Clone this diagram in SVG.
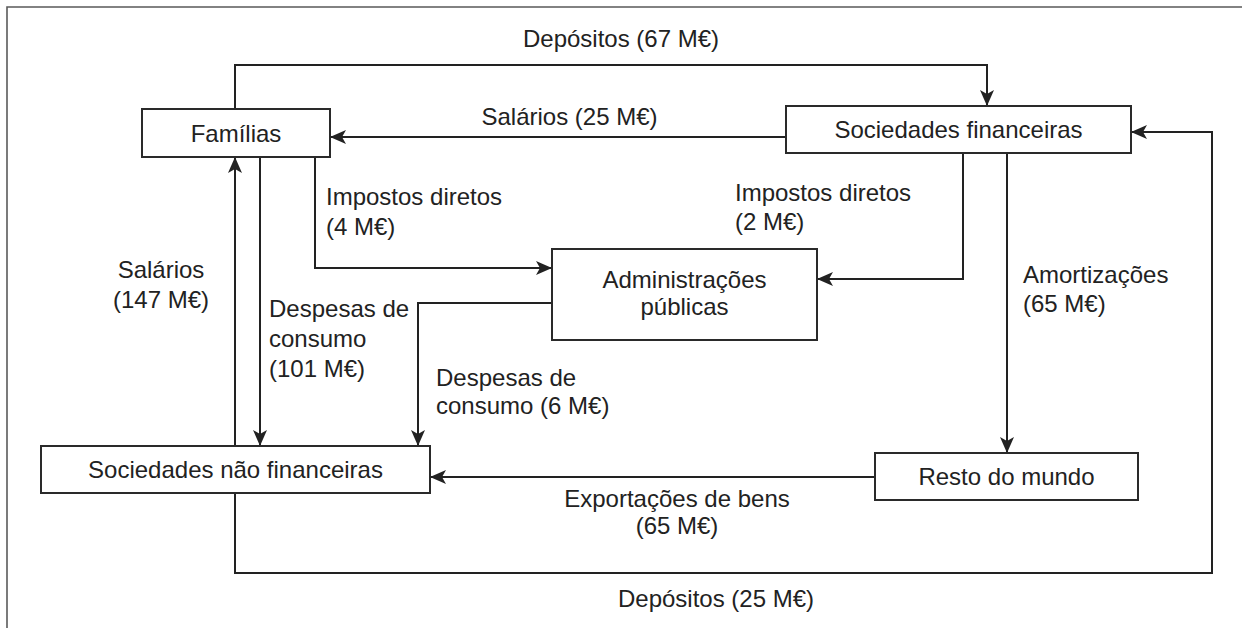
<svg xmlns="http://www.w3.org/2000/svg" width="1242" height="628" viewBox="0 0 1242 628">
<style>
  .frame { fill: none; stroke: #5a5a5a; stroke-width: 1.6; }
  .box { fill: #ffffff; stroke: #2a2a2a; stroke-width: 2; }
  .conn { fill: none; stroke: #222222; stroke-width: 2; }
  text { font-family: "Liberation Sans", Arial, sans-serif; font-size: 24px; fill: #222222; }
  .c { text-anchor: middle; }
  .s { text-anchor: start; }
</style>
<defs>
  <marker id="arr" markerUnits="userSpaceOnUse" markerWidth="17" markerHeight="15" refX="16" refY="7.5" orient="auto" viewBox="0 0 17 15">
    <path d="M0,0.5 L16,7.5 L0,14.5 L4,7.5 z" fill="#222222"/>
  </marker>
</defs>
<rect width="1242" height="628" fill="#ffffff"/>
<path class="frame" d="M7,628 V7 H1242"/>

<g id="connectors">
  <path class="conn" d="M235,109 V65 H987 V106" marker-end="url(#arr)"/>
  <path class="conn" d="M786,137 H330" marker-end="url(#arr)"/>
  <path class="conn" d="M315,157 V268 H552" marker-end="url(#arr)"/>
  <path class="conn" d="M235,446 V157" marker-end="url(#arr)"/>
  <path class="conn" d="M260,157 V446" marker-end="url(#arr)"/>
  <path class="conn" d="M963,153 V279 H817" marker-end="url(#arr)"/>
  <path class="conn" d="M552,303 H418 V446" marker-end="url(#arr)"/>
  <path class="conn" d="M1007,153 V453" marker-end="url(#arr)"/>
  <path class="conn" d="M875,477 H430" marker-end="url(#arr)"/>
  <path class="conn" d="M235,493 V573 H1212 V132 H1131" marker-end="url(#arr)"/>
</g>

<g id="labels">
  <text class="c" x="621" y="47">Depósitos (67 M€)</text>
  <text class="c" x="569.5" y="125">Salários (25 M€)</text>
  <text class="s" x="326" y="205">Impostos diretos</text>
  <text class="s" x="326" y="235">(4 M€)</text>
  <text class="s" x="735" y="201">Impostos diretos</text>
  <text class="s" x="735" y="230">(2 M€)</text>
  <text class="s" x="1023" y="283">Amortizações</text>
  <text class="s" x="1023" y="312">(65 M€)</text>
  <text class="c" x="161" y="278">Salários</text>
  <text class="c" x="161" y="308">(147 M€)</text>
  <text class="s" x="269" y="317">Despesas de</text>
  <text class="s" x="269" y="347">consumo</text>
  <text class="s" x="269" y="377">(101 M€)</text>
  <text class="s" x="436" y="386">Despesas de</text>
  <text class="s" x="436" y="414">consumo (6 M€)</text>
  <text class="c" x="677" y="507">Exportações de bens</text>
  <text class="c" x="677" y="534">(65 M€)</text>
  <text class="c" x="716" y="607">Depósitos (25 M€)</text>
</g>

<g id="node-familias">
  <rect class="box" x="142" y="109" width="188" height="48"/>
  <text class="c" x="236" y="142">Famílias</text>
</g>
<g id="node-sociedades-financeiras">
  <rect class="box" x="786" y="106" width="345" height="47"/>
  <text class="c" x="958.5" y="138">Sociedades financeiras</text>
</g>
<g id="node-administracoes-publicas">
  <rect class="box" x="552" y="249" width="265" height="91"/>
  <text class="c" x="684.5" y="288">Administrações</text>
  <text class="c" x="684.5" y="315">públicas</text>
</g>
<g id="node-sociedades-nao-financeiras">
  <rect class="box" x="41" y="446" width="389" height="47"/>
  <text class="c" x="235.5" y="478">Sociedades não financeiras</text>
</g>
<g id="node-resto-do-mundo">
  <rect class="box" x="875" y="453" width="263" height="47"/>
  <text class="c" x="1006.5" y="485">Resto do mundo</text>
</g>
</svg>
